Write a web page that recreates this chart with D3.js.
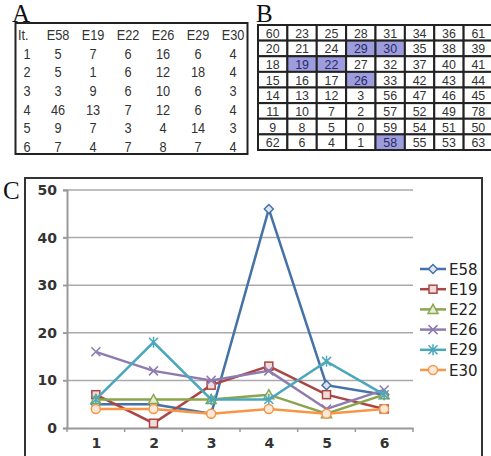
<!DOCTYPE html>
<html>
<head>
<meta charset="utf-8">
<script src="https://cdn.jsdelivr.net/npm/d3@7"></script>
<style>
	body { margin: 0; background: #fff; }
	svg { display: block; }
</style>
</head>
<body>
<svg id="fig" width="491" height="456"></svg>
<script>
// table A / chart C data
var iterations = [1, 2, 3, 4, 5, 6];
var seriesNames = ['E58', 'E19', 'E22', 'E26', 'E29', 'E30'];
var e58 = [5, 5, 3, 46, 9, 7];
var e19 = [7, 1, 9, 13, 7, 4];
var e22 = [6, 6, 6, 7, 3, 7];
var e26 = [16, 12, 10, 12, 4, 8];
var e29 = [6, 18, 6, 6, 14, 7];
var e30 = [4, 4, 3, 4, 3, 4];
var yTicks = [0, 10, 20, 30, 40, 50];

// grid B data
var gridRows = [
	[60, 23, 25, 28, 31, 34, 36, 61],
	[20, 21, 24, 29, 30, 35, 38, 39],
	[18, 19, 22, 27, 32, 37, 40, 41],
	[15, 16, 17, 26, 33, 42, 43, 44],
	[14, 13, 12, 3, 56, 47, 46, 45],
	[11, 10, 7, 2, 57, 52, 49, 78],
	[9, 8, 5, 0, 59, 54, 51, 50],
	[62, 6, 4, 1, 58, 55, 53, 63]
];
var highlighted = [29, 30, 19, 22, 26, 58];

var allSeries = [e58, e19, e22, e26, e29, e30];
var colors = ['#4572A7', '#AA4643', '#89A54E', '#8E7CB0', '#4BA8BC', '#F79646'];
var markers = ['diamond', 'square', 'triangle', 'cross', 'star', 'circle'];

var svg = d3.select('#fig');
var narrow = '"Liberation Sans", Arial, sans-serif';
var serif = '"Liberation Serif", "DejaVu Serif", serif';
var sans = '"DejaVu Sans", sans-serif';

function panelLabel(txt, x, y){
	svg.append('text').attr('x', x).attr('y', y)
		.attr('font-family', serif).attr('font-size', 25)
		.attr('fill', '#111').text(txt);
}

// condensed text: plain sans squeezed horizontally
function narrowText(g, txt, x, y, anchor, size, color, sx){
	return g.append('text')
		.attr('transform', 'translate(' + x + ',' + y + ') scale(' + sx + ',1)')
		.attr('text-anchor', anchor)
		.attr('font-family', narrow).attr('font-size', size).attr('fill', color)
		.text(txt);
}

// ---------- A: table ----------
panelLabel('A', 12, 22);
var tabA = svg.append('g');
tabA.append('rect').attr('x', 15.5).attr('y', 23).attr('width', 232).attr('height', 131)
	.attr('fill', 'none').attr('stroke', '#222').attr('stroke-width', 2);

var colX = d3.scalePoint().domain(d3.range(7)).range([23, 233]);
var rowY = d3.scalePoint().domain(d3.range(7)).range([40, 152]);

var header = ['It.'].concat(seriesNames);
header.forEach(function(h, i){
	narrowText(tabA, h, i == 0 ? 18 : colX(i), rowY(0), i == 0 ? 'start' : 'middle', 15, '#333', 0.85);
});
iterations.forEach(function(it, r){
	var cells = [it].concat(allSeries.map(function(s){ return s[r]; }));
	cells.forEach(function(v, i){
		narrowText(tabA, v, i == 0 ? 27 : colX(i), rowY(r + 1), 'middle', 15, '#333', 0.85);
	});
});

// ---------- B: grid ----------
panelLabel('B', 256, 22);
var tabB = svg.append('g');
var gx = d3.scaleBand().domain(d3.range(8)).range([258, 493]);
var gy = d3.scaleBand().domain(d3.range(8)).range([25, 150]);

gridRows.forEach(function(row, r){
	row.forEach(function(v, c){
		var hi = highlighted.indexOf(v) >= 0;
		tabB.append('rect').attr('x', gx(c)).attr('y', gy(r))
			.attr('width', gx.bandwidth()).attr('height', gy.bandwidth())
			.attr('fill', hi ? '#9d9ddd' : '#fff')
			.attr('stroke', '#222').attr('stroke-width', 2);
		narrowText(tabB, v, gx(c) + gx.bandwidth() / 2, gy(r) + gy.bandwidth() / 2 + 5, 'middle', 13.5, hi ? '#2a2a66' : '#333', 0.92);
	});
});

// ---------- C: line chart ----------
panelLabel('C', 3, 199);
svg.append('rect').attr('x', 25).attr('y', 178).attr('width', 457).attr('height', 300)
	.attr('fill', '#fff').attr('stroke', '#333').attr('stroke-width', 2);

var x = d3.scalePoint().domain(iterations).range([67, 413]).padding(0.5);
var y = d3.scaleLinear().domain([0, 50]).range([428, 190]);
var band = (413 - 67) / iterations.length;

var chart = svg.append('g');

// gridlines
chart.append('g').selectAll('line').data(yTicks.slice(1)).enter().append('line')
	.attr('x1', 63).attr('x2', 413)
	.attr('y1', function(d){ return y(d); }).attr('y2', function(d){ return y(d); })
	.attr('stroke', '#aaa').attr('stroke-width', 1.5);

// y axis
var yAxis = chart.append('g').attr('transform', 'translate(67,0)')
	.call(d3.axisLeft(y).tickValues(yTicks).tickSize(4).tickPadding(6));
yAxis.select('.domain').attr('stroke', '#999').attr('stroke-width', 2);
yAxis.selectAll('.tick line').attr('stroke', '#999').attr('stroke-width', 1.5);
yAxis.selectAll('text').attr('font-family', sans).attr('font-size', 14)
	.attr('font-weight', 'bold').attr('fill', '#333');

// x axis
var xAxis = chart.append('g').attr('transform', 'translate(0,428)')
	.call(d3.axisBottom(x).tickSize(0).tickPadding(10));
xAxis.select('.domain').attr('stroke', '#999').attr('stroke-width', 2);
xAxis.selectAll('text').attr('font-family', sans).attr('font-size', 14)
	.attr('font-weight', 'bold').attr('fill', '#333');
// category boundary ticks
chart.append('g').selectAll('line').data(d3.range(iterations.length + 1)).enter().append('line')
	.attr('x1', function(d){ return 67 + d * band; }).attr('x2', function(d){ return 67 + d * band; })
	.attr('y1', 428).attr('y2', 432)
	.attr('stroke', '#999').attr('stroke-width', 1.5);

function drawMarker(g, type, cx, cy, color){
	var s = 4.5;
	if(type == 'diamond'){
		g.append('path').attr('d', 'M' + cx + ',' + (cy - s) + 'L' + (cx + s) + ',' + cy + 'L' + cx + ',' + (cy + s) + 'L' + (cx - s) + ',' + cy + 'Z')
			.attr('fill', '#dfe6f1').attr('stroke', color).attr('stroke-width', 1.5);
	}
	else if(type == 'square'){
		g.append('rect').attr('x', cx - 4).attr('y', cy - 4).attr('width', 8).attr('height', 8)
			.attr('fill', '#f2dcdb').attr('stroke', color).attr('stroke-width', 1.5);
	}
	else if(type == 'triangle'){
		g.append('path').attr('d', 'M' + cx + ',' + (cy - 5) + 'L' + (cx + 5) + ',' + (cy + 4) + 'L' + (cx - 5) + ',' + (cy + 4) + 'Z')
			.attr('fill', '#e6eed5').attr('stroke', color).attr('stroke-width', 1.5);
	}
	else if(type == 'cross'){
		g.append('path').attr('d', 'M' + (cx - s) + ',' + (cy - s) + 'L' + (cx + s) + ',' + (cy + s) + 'M' + (cx + s) + ',' + (cy - s) + 'L' + (cx - s) + ',' + (cy + s))
			.attr('stroke', color).attr('stroke-width', 1.5);
	}
	else if(type == 'star'){
		g.append('path').attr('d', 'M' + (cx - s) + ',' + (cy - s) + 'L' + (cx + s) + ',' + (cy + s) + 'M' + (cx + s) + ',' + (cy - s) + 'L' + (cx - s) + ',' + (cy + s) + 'M' + cx + ',' + (cy - s - 1) + 'L' + cx + ',' + (cy + s + 1))
			.attr('stroke', color).attr('stroke-width', 1.5);
	}
	else {
		g.append('circle').attr('cx', cx).attr('cy', cy).attr('r', 4.5)
			.attr('fill', '#fde9d9').attr('stroke', color).attr('stroke-width', 1.5);
	}
}

var line = d3.line()
	.x(function(d, i){ return x(iterations[i]); })
	.y(function(d){ return y(d); });

allSeries.forEach(function(s, k){
	var g = chart.append('g');
	g.append('path').datum(s).attr('d', line)
		.attr('fill', 'none').attr('stroke', colors[k]).attr('stroke-width', 2.5);
	s.forEach(function(v, i){
		drawMarker(g, markers[k], x(iterations[i]), y(v), colors[k]);
	});
});

// legend
var legend = svg.append('g');
seriesNames.forEach(function(name, k){
	var ly = 269 + k * 20.2;
	legend.append('line').attr('x1', 420).attr('x2', 446).attr('y1', ly).attr('y2', ly)
		.attr('stroke', colors[k]).attr('stroke-width', 2.5);
	drawMarker(legend, markers[k], 433, ly, colors[k]);
	legend.append('text').attr('x', 449).attr('y', ly + 5.5)
		.attr('font-family', sans).attr('font-size', 15).attr('fill', '#222')
		.text(name);
});
</script>
</body>
</html>
